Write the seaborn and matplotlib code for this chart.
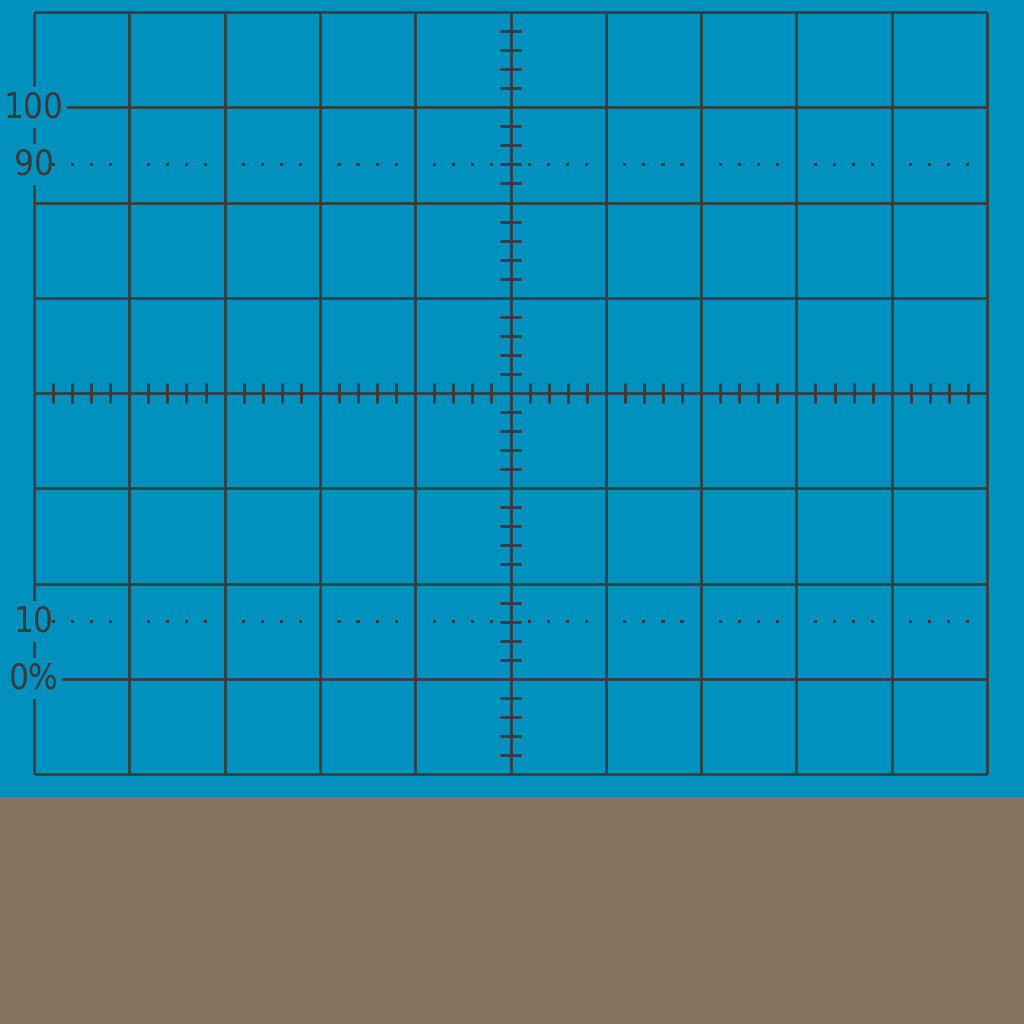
import numpy as np
import matplotlib
matplotlib.use("Agg")
import matplotlib.pyplot as plt
import seaborn as sns

# graticule: 10 x 8 divisions, centre at (0, 0)
x_major = [-5, -4, -3, -2, -1, 0, 1, 2, 3, 4, 5]
y_major = [-4, -3, -2, -1, 0, 1, 2, 3, 4]
minor_step = 0.2
dotted_levels = [2.4, -2.4]
label_texts = ["100", "90", "10", "0%"]
label_levels = [3, 2.4, -2.4, -3]

BLUE = "#0091bf"
BROWN = "#857560"
INK = "#3a3a3a"

sns.set_style("white", rc={"axes.facecolor": BLUE, "figure.facecolor": BLUE})
plt.rcParams["font.family"] = ["DejaVu Sans"]

fig = plt.figure(figsize=(10.24, 10.24), dpi=100)
fig.patches.append(plt.Rectangle((0, 0), 1, 227 / 1024, transform=fig.transFigure,
                                 facecolor=BROWN, edgecolor="none", zorder=0))
ax = fig.add_axes([34 / 1024, 250 / 1024, 953 / 1024, 762 / 1024])
ax.set_xlim(-5, 5)
ax.set_ylim(-4, 4)
ax.axis("off")

# major grid
ax.vlines(x_major, -4, 4, color=INK, lw=1.9, clip_on=False, zorder=2)
ax.hlines(y_major, -5, 5, color=INK, lw=1.9, clip_on=False, zorder=2)

# minor ticks on centre lines
xm = np.round(np.arange(-5, 5 + 1e-9, minor_step), 2)
xm = [v for v in xm if abs(v - round(v)) > 1e-6]
ym = np.round(np.arange(-4, 4 + 1e-9, minor_step), 2)
ym = [v for v in ym if abs(v - round(v)) > 1e-6]
ax.vlines(xm, -0.105, 0.105, color=INK, lw=2.0, zorder=2)
ax.hlines(ym, -0.105, 0.105, color=INK, lw=2.0, zorder=2)

# labels on the left border
for txt, lvl in zip(label_texts, label_levels):
    ax.text(-5, lvl, txt, ha="center", va="center", fontsize=25, color=INK,
            fontstretch="condensed", zorder=3,
            bbox=dict(boxstyle="square,pad=0.1", facecolor=BLUE, edgecolor="none"))

# dotted 10% / 90% lines (drawn over the labels' masks)
for lvl in dotted_levels:
    sns.scatterplot(x=xm, y=[lvl] * len(xm), ax=ax, color=INK, s=5,
                    marker="s", edgecolor="none", zorder=4)

fig.savefig("out.png", dpi=100, facecolor=BLUE)
